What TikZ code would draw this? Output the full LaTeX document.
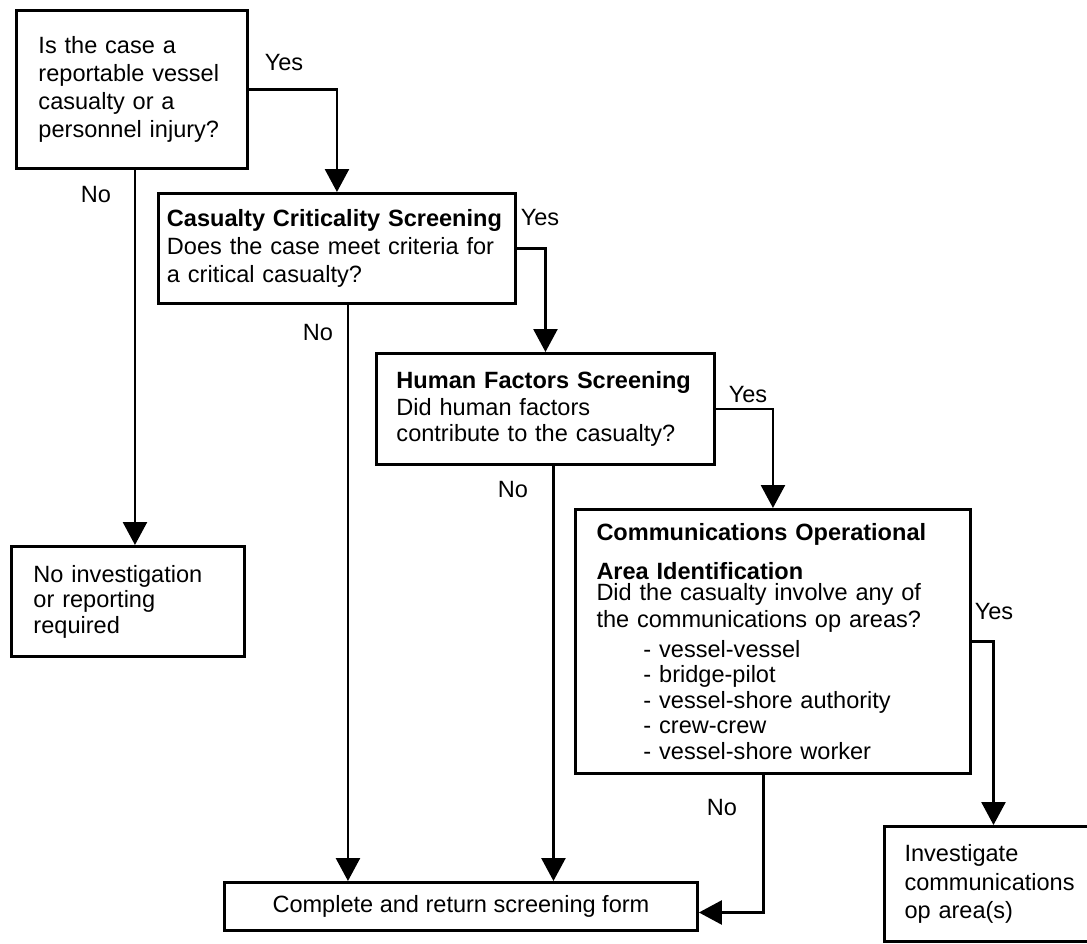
\documentclass[tikz,border=0pt]{standalone}
\usepackage{fontspec}
\setmainfont{Liberation Sans}
\usepackage{tikz}
\usetikzlibrary{arrows.meta, calc}

\begin{document}
\begin{tikzpicture}[
  x=0.02cm, y=-0.02cm,
  qbox/.style={draw, line width=1.7pt, anchor=north west, align=left, inner ysep=0pt, font=\fontsize{13.4}{16}\selectfont},
  lbl/.style={inner sep=0pt, font=\fontsize{13.4}{16}\selectfont},
  arr/.style={line width=1.5pt, -{Triangle[length=0.46cm, width=0.48cm]}}
]
  \useasboundingbox (0,0) rectangle (1087,943);
  \clip (0,0) rectangle (1087,943);

  \node[qbox, text width=3.74cm, inner xsep=0.44cm, minimum height=3.16cm] (case) at (15,9) {Is the case a\\reportable vessel\\casualty or a\\personnel injury?};
  \node[qbox, text width=6.8cm, inner xsep=0.17cm, minimum height=2.2cm] (crit) at (157,192) {\textbf{Casualty Criticality Screening}\\Does the case meet criteria for\\a critical casualty?};
  \node[qbox, text width=5.96cm, inner xsep=0.4cm, minimum height=2.22cm] (human) at (375,352) {\textbf{Human Factors Screening}\\[-0.8pt]Did human factors\\[-0.8pt]contribute to the casualty?};
  \node[qbox, text width=7.06cm, inner xsep=0.42cm, minimum height=5.28cm] (comms) at (574,508) {\textbf{Communications Operational}\\[6.1pt]\textbf{Area Identification}\\[-4.1pt]Did the casualty involve any of\\[-0.7pt]the communications op areas?\\[1pt]\hspace*{0.94cm}- vessel-vessel\\[-1.5pt]\hspace*{0.94cm}- bridge-pilot\\[-1.5pt]\hspace*{0.94cm}- vessel-shore authority\\[-1.5pt]\hspace*{0.94cm}- crew-crew\\[-1.5pt]\hspace*{0.94cm}- vessel-shore worker};
  \node[qbox, text width=3.78cm, inner xsep=0.44cm, minimum height=2.2cm] (noinv) at (10,545) {No investigation\\[-1.5pt]or reporting\\[-1.5pt]required};
  \node[qbox, align=center, inner xsep=0pt, minimum width=9.46cm, minimum height=0.96cm] (done) at (223,881) {Complete and return screening form};
  \node[qbox, text width=4cm, inner xsep=0.4cm, minimum height=2.3cm] (inv) at (883,825) {Investigate\\communications\\op area(s)};

  \draw[arr] (case.east) -| (crit.north);
  \draw[arr] ([xshift=0.06cm]case.south) -- ([xshift=0.06cm]case.south |- noinv.north);
  \draw[arr] (crit.east) -| (human.north);
  \draw[arr] ([xshift=0.22cm]crit.south) -- ([xshift=0.22cm]crit.south |- done.north);
  \draw[arr] (human.east) -| (comms.north);
  \draw[arr] ([xshift=0.16cm]human.south) -- ([xshift=0.16cm]human.south |- done.north);
  \draw[arr] (comms.east) -| ([xshift=-0.22cm]inv.north);
  \draw[arr] ([xshift=-0.19cm]comms.south) |- ([yshift=-0.12cm]done.east);

  \node[lbl] (yes1) at (284,63) {Yes};
  \node[lbl] (no1) at (96,195) {No};
  \node[lbl] (yes2) at (540,218) {Yes};
  \node[lbl] (no2) at (318,333) {No};
  \node[lbl] (yes3) at (748,395) {Yes};
  \node[lbl] (no3) at (513,490) {No};
  \node[lbl] (yes4) at (994,612) {Yes};
  \node[lbl] (no4) at (722,807) {No};
\end{tikzpicture}
\end{document}
